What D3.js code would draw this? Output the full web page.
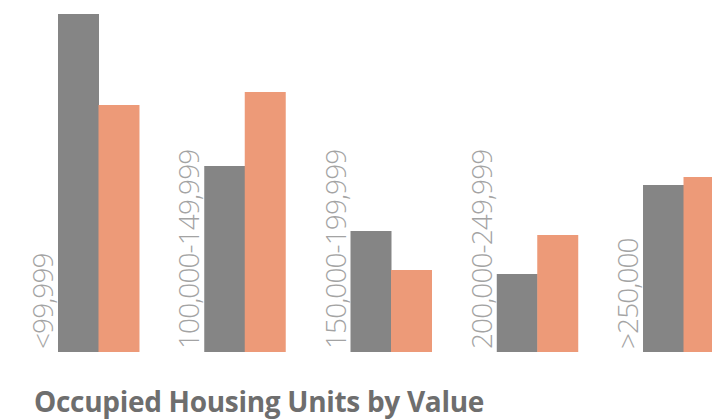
<!DOCTYPE html>
<html>
<head>
<meta charset="utf-8">
<script src="https://cdn.jsdelivr.net/npm/d3@7"></script>
<style>
  html, body { margin: 0; padding: 0; background: #fff; overflow: hidden; }
  svg { display: block; }
</style>
</head>
<body>
<svg id="chart" width="712" height="419"></svg>
<script>
// Chart data
const categories = ["<99,999", "100,000-149,999", "150,000-199,999", "200,000-249,999", ">250,000"];
const seriesNames = ["A", "B"];
const seriesA = [33.8, 18.6, 12.1, 7.8, 16.7];
const seriesB = [24.7, 26.0, 8.2, 11.7, 17.5];
const title = "Occupied Housing Units by Value";

const colors = { A: "#858585", B: "#ed9a78" };

const width = 712, height = 419;
const baseY = 352;

const svg = d3.select("#chart");

// group scale
const x0 = d3.scaleBand()
    .domain(categories)
    .range([58, 724])
    .paddingInner(0.4463)
    .paddingOuter(0)
    .align(0);

const x1 = d3.scaleBand()
    .domain(seriesNames)
    .range([0, x0.bandwidth()]);

const y = d3.scaleLinear()
    .domain([0, 34])
    .range([baseY, baseY - 340]);

const rows = categories.map((c, i) => ({ cat: c, A: seriesA[i], B: seriesB[i] }));

const groups = svg.selectAll(".grp")
    .data(rows)
    .enter()
    .append("g")
    .attr("class", "grp")
    .attr("transform", d => `translate(${x0(d.cat)},0)`);

groups.selectAll("rect")
    .data(d => seriesNames.map(k => ({ key: k, value: d[k] })))
    .enter()
    .append("rect")
    .attr("x", d => x1(d.key))
    .attr("y", d => y(d.value))
    .attr("width", x1.bandwidth() + 0.5)
    .attr("height", d => y(0) - y(d.value))
    .attr("fill", d => colors[d.key]);

// rotated category labels
groups.append("text")
    .attr("transform", `translate(-5,${baseY - 3}) rotate(-90)`)
    .attr("text-anchor", "start")
    .style("font-family", "'Open Sans', sans-serif")
    .style("font-weight", 300)
    .style("font-size", "28px")
    .style("letter-spacing", "-0.9px")
    .style("fill", "#a3a3a3")
    .text(d => d.cat);

// title
svg.append("text")
    .attr("x", 34)
    .attr("y", 412)
    .style("font-family", "'Open Sans', sans-serif")
    .style("font-weight", 700)
    .style("font-size", "28px")
    .style("letter-spacing", "-0.3px")
    .style("fill", "#6e6e6e")
    .text(title);
</script>
</body>
</html>
